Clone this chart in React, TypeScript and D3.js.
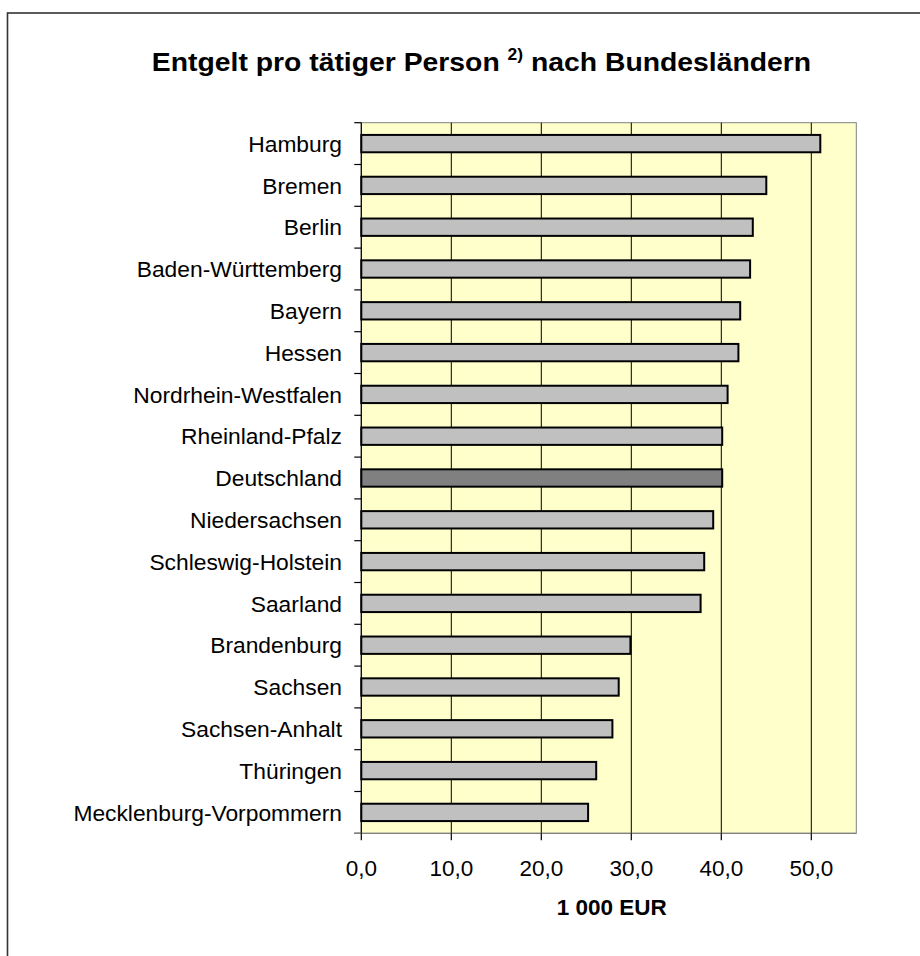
import React from "react";
import * as d3 from "d3";

const categories = [
  "Hamburg",
  "Bremen",
  "Berlin",
  "Baden-Württemberg",
  "Bayern",
  "Hessen",
  "Nordrhein-Westfalen",
  "Rheinland-Pfalz",
  "Deutschland",
  "Niedersachsen",
  "Schleswig-Holstein",
  "Saarland",
  "Brandenburg",
  "Sachsen",
  "Sachsen-Anhalt",
  "Thüringen",
  "Mecklenburg-Vorpommern",
];

const values = [51.0, 45.0, 43.5, 43.2, 42.1, 41.9, 40.7, 40.1, 40.1, 39.1, 38.1, 37.7, 29.9, 28.6, 27.9, 26.1, 25.2];

const highlight = "Deutschland";
const tickValues = [0, 10, 20, 30, 40, 50];
const xMax = 55;
const titleMain = "Entgelt pro tätiger Person ";
const titleSup = "2)";
const titleEnd = " nach Bundesländern";
const xAxisTitle = "1 000 EUR";

const W = 920;
const H = 956;
const plot = { left: 361.3, right: 856.3, top: 122.7, bottom: 833.3 };
const FONT = "'Liberation Sans', Arial, sans-serif";

export default function App() {
  const x = d3.scaleLinear().domain([0, xMax]).range([plot.left, plot.right]);
  const y = d3.scaleBand<string>().domain(categories).range([plot.top, plot.bottom]).padding(0);
  const bw = y.bandwidth();
  const barH = bw * 0.415;
  const fmt = (v: number) => d3.format(".1f")(v).replace(".", ",");
  const boundaries = d3.range(categories.length + 1).map((i) => plot.top + i * bw);

  return (
    <svg
      width={W}
      height={H}
      style={{ position: "absolute", left: 0, top: 0, display: "block", background: "#fff" }}
    >
      <rect x={7.5} y={13} width={1000} height={1000} fill="#fff" stroke="#333" strokeWidth={1.6} />

      <text
        transform={`translate(481.5,71) scale(1.09,1)`}
        textAnchor="middle"
        fontFamily={FONT}
        fontWeight="bold"
        fontSize={26}
        fill="#000"
      >
        {titleMain}
        <tspan fontSize={16} dy={-11}>{titleSup}</tspan>
        <tspan dy={11}>{titleEnd}</tspan>
      </text>

      {/* plot area */}
      <rect
        x={plot.left}
        y={plot.top}
        width={plot.right - plot.left}
        height={plot.bottom - plot.top}
        fill="#FFFFCC"
        stroke="#808080"
        strokeWidth={1}
      />

      {/* gridlines */}
      {tickValues
        .filter((t) => t > 0)
        .map((t) => (
          <line key={t} x1={x(t)} x2={x(t)} y1={plot.top} y2={plot.bottom} stroke="#000" strokeWidth={1} />
        ))}

      {/* bars */}
      {categories.map((c, i) => {
        const y0 = (y(c) as number) + (bw - barH) / 2;
        return (
          <rect
            key={c}
            x={x(0)}
            y={y0}
            width={x(values[i]) - x(0)}
            height={barH}
            fill={c === highlight ? "#808080" : "#C0C0C0"}
            stroke="#000"
            strokeWidth={2}
          />
        );
      })}

      {/* y axis */}
      <line x1={plot.left} x2={plot.left} y1={plot.top} y2={plot.bottom} stroke="#000" strokeWidth={1.2} />
      {boundaries.map((b, i) => (
        <line key={i} x1={plot.left - 7} x2={plot.left} y1={b} y2={b} stroke="#000" strokeWidth={1.2} />
      ))}
      {categories.map((c) => (
        <text
          key={c}
          x={342}
          y={(y(c) as number) + bw / 2}
          dy="0.36em"
          textAnchor="end"
          fontFamily={FONT}
          fontSize={22.8}
          fill="#000"
        >
          {c}
        </text>
      ))}

      {/* x axis */}
      <line x1={plot.left - 7} x2={plot.right} y1={plot.bottom} y2={plot.bottom} stroke="#808080" strokeWidth={1.2} />
      {tickValues.map((t) => (
        <g key={t}>
          <line x1={x(t)} x2={x(t)} y1={plot.bottom} y2={plot.bottom + 7} stroke="#000" strokeWidth={1.2} />
          <text
            x={x(t)}
            y={876}
            textAnchor="middle"
            fontFamily={FONT}
            fontSize={22.5}
            fill="#000"
          >
            {fmt(t)}
          </text>
        </g>
      ))}
      <text
        x={611.8}
        y={915}
        textAnchor="middle"
        fontFamily={FONT}
        fontWeight="bold"
        fontSize={22.5}
        fill="#000"
      >
        {xAxisTitle}
      </text>
    </svg>
  );
}
